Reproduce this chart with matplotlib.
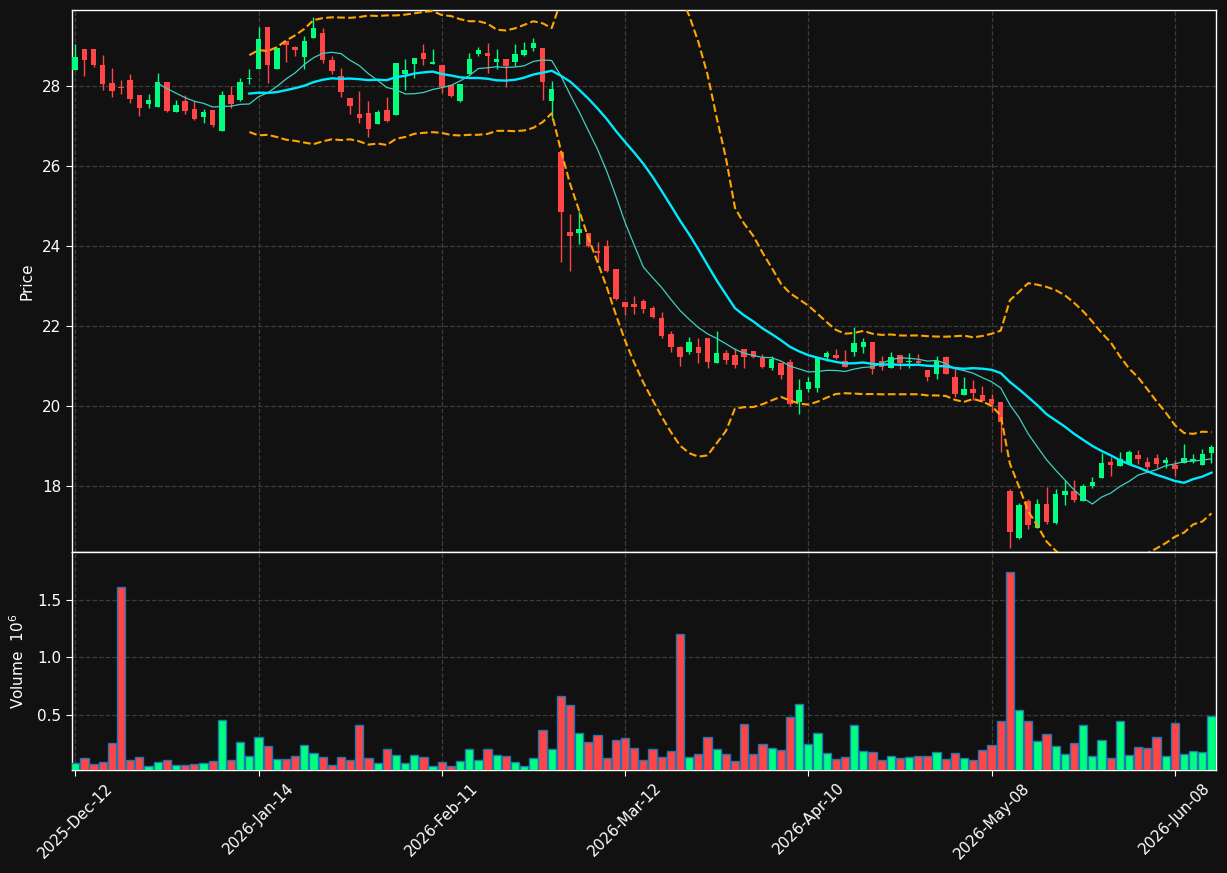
import numpy as np
import pandas as pd
import matplotlib
matplotlib.use('Agg')
import matplotlib.pyplot as plt

# ---- data ----
opens = [28.41, 28.93, 28.93, 28.53, 28.08, 27.97, 28.16, 27.78, 27.56, 27.48,
         28.11, 27.34, 27.63, 27.43, 27.23, 27.41, 26.88, 27.78, 27.66, 28.18,
         28.43, 29.48, 28.43, 29.13, 28.98, 28.73, 29.21, 29.33, 28.66, 28.26,
         27.71, 27.31, 27.33, 27.06, 27.41, 27.28, 28.31, 28.56, 28.83, 28.56,
         28.53, 28.03, 27.63, 28.31, 28.81, 28.83, 28.61, 28.68, 28.61, 28.78,
         28.96, 28.96, 27.63, 26.36, 24.36, 24.32, 24.33, 23.88, 24.01, 23.43,
         22.61, 22.56, 22.63, 22.46, 22.21, 21.81, 21.48, 21.36, 21.48, 21.71,
         21.07, 21.32, 21.27, 21.42, 21.37, 21.19, 20.94, 21.07, 21.09, 20.09,
         20.42, 20.44, 21.22, 21.27, 21.12, 21.34, 21.47, 21.59, 21.12, 20.96,
         21.27, 21.09, 21.12, 20.89, 20.81, 21.22, 20.72, 20.27, 20.42, 20.27,
         20.17, 20.10, 17.88, 16.69, 17.63, 16.96, 17.55, 17.08, 17.78, 17.88,
         17.63, 18.00, 18.21, 18.61, 18.50, 18.55, 18.78, 18.60, 18.70, 18.58,
         18.53, 18.57, 18.63, 18.53, 18.83]
highs = [29.05, 28.93, 28.93, 28.78, 28.45, 28.15, 28.31, 27.78, 27.79, 28.33,
         28.11, 27.66, 27.78, 27.63, 27.43, 27.41, 27.88, 28.01, 28.21, 28.43,
         29.47, 29.48, 28.96, 29.13, 29.00, 29.26, 29.73, 29.45, 28.76, 28.45,
         27.71, 27.88, 27.63, 27.41, 27.73, 28.58, 28.68, 28.71, 29.06, 28.93,
         28.53, 28.03, 28.06, 28.83, 28.98, 29.08, 28.93, 28.68, 29.06, 29.11,
         29.21, 28.96, 28.13, 26.36, 24.80, 24.87, 24.33, 24.09, 24.15, 23.43,
         22.61, 22.75, 22.67, 22.50, 22.36, 21.88, 21.51, 21.73, 21.71, 21.71,
         21.88, 21.41, 21.44, 21.42, 21.37, 21.29, 21.24, 21.07, 21.17, 20.67,
         20.72, 21.22, 21.38, 21.42, 21.39, 21.97, 21.69, 21.59, 21.24, 21.34,
         21.27, 21.32, 21.29, 20.89, 21.24, 21.24, 20.92, 20.72, 20.64, 20.49,
         20.29, 20.10, 17.93, 17.58, 17.67, 17.68, 17.98, 17.92, 18.14, 18.14,
         18.04, 18.22, 18.82, 18.72, 18.84, 18.90, 18.89, 18.72, 18.80, 18.72,
         18.65, 19.05, 18.80, 18.92, 19.02]
lows = [28.41, 28.24, 28.47, 27.90, 27.72, 27.79, 27.57, 27.24, 27.44, 27.48,
        27.35, 27.34, 27.30, 27.16, 27.08, 26.98, 26.88, 27.44, 27.63, 28.06,
        28.43, 28.07, 28.43, 28.61, 28.76, 28.43, 29.21, 28.57, 28.30, 27.72,
        27.31, 27.08, 26.73, 27.06, 27.11, 27.28, 27.89, 28.20, 28.53, 28.56,
        27.82, 27.72, 27.60, 28.31, 28.76, 28.33, 28.43, 27.97, 28.51, 28.76,
        28.88, 27.66, 27.16, 23.59, 23.37, 24.05, 23.97, 23.59, 23.34, 22.65,
        22.27, 22.30, 22.32, 22.19, 21.70, 21.36, 21.00, 21.31, 21.08, 20.95,
        21.07, 21.06, 20.96, 20.96, 21.20, 20.95, 20.89, 20.68, 20.00, 19.81,
        20.36, 20.34, 21.12, 21.17, 20.97, 21.26, 21.32, 20.81, 20.89, 20.94,
        20.92, 20.94, 21.02, 20.62, 20.67, 20.81, 20.22, 20.27, 20.14, 20.10,
        19.84, 18.86, 16.44, 16.67, 16.93, 16.96, 17.05, 17.04, 17.52, 17.61,
        17.63, 17.94, 18.21, 18.25, 18.50, 18.55, 18.54, 18.36, 18.44, 18.44,
        18.25, 18.57, 18.57, 18.53, 18.58]
closes = [28.73, 28.66, 28.53, 28.06, 27.88, 27.94, 27.68, 27.46, 27.66, 28.11,
          27.38, 27.53, 27.38, 27.18, 27.36, 27.03, 27.78, 27.56, 28.11, 28.20,
          29.18, 28.53, 28.96, 29.03, 28.91, 29.13, 29.46, 28.66, 28.38, 27.86,
          27.51, 27.21, 26.93, 27.36, 27.13, 28.58, 28.41, 28.71, 28.68, 28.61,
          27.98, 27.76, 28.06, 28.68, 28.91, 28.76, 28.68, 28.51, 28.81, 28.91,
          29.08, 28.11, 27.93, 24.84, 24.24, 24.43, 23.99, 23.83, 23.38, 22.67,
          22.47, 22.47, 22.42, 22.22, 21.74, 21.47, 21.22, 21.61, 21.33, 21.09,
          21.33, 21.14, 21.02, 21.22, 21.22, 20.97, 21.17, 20.77, 20.04, 20.39,
          20.59, 21.22, 21.32, 21.19, 20.97, 21.57, 21.59, 20.92, 20.97, 21.22,
          21.07, 21.12, 21.07, 20.73, 21.12, 20.81, 20.31, 20.42, 20.32, 20.12,
          20.04, 19.59, 16.86, 17.53, 17.03, 17.55, 17.11, 17.79, 17.88, 17.65,
          18.00, 18.10, 18.58, 18.53, 18.68, 18.84, 18.68, 18.48, 18.55, 18.65,
          18.43, 18.69, 18.68, 18.80, 18.98]
# volume in millions
volumes = [0.079, 0.123, 0.070, 0.088, 0.254, 1.614, 0.105, 0.132, 0.050, 0.088,
           0.105, 0.061, 0.061, 0.070, 0.079, 0.096, 0.456, 0.105, 0.263, 0.140,
           0.307, 0.228, 0.114, 0.114, 0.140, 0.237, 0.167, 0.132, 0.061, 0.132,
           0.105, 0.404, 0.123, 0.079, 0.202, 0.149, 0.079, 0.149, 0.132, 0.050,
           0.088, 0.050, 0.096, 0.202, 0.105, 0.202, 0.149, 0.140, 0.088, 0.050,
           0.123, 0.368, 0.202, 0.658, 0.579, 0.342, 0.263, 0.325, 0.123, 0.281,
           0.298, 0.211, 0.105, 0.202, 0.132, 0.184, 1.202, 0.132, 0.158, 0.307,
           0.202, 0.158, 0.096, 0.421, 0.158, 0.246, 0.211, 0.193, 0.474, 0.596,
           0.246, 0.342, 0.167, 0.114, 0.132, 0.412, 0.184, 0.175, 0.105, 0.140,
           0.123, 0.132, 0.140, 0.140, 0.175, 0.114, 0.167, 0.123, 0.105, 0.193,
           0.237, 0.447, 1.746, 0.541, 0.439, 0.272, 0.333, 0.228, 0.158, 0.254,
           0.404, 0.140, 0.281, 0.123, 0.447, 0.149, 0.219, 0.211, 0.307, 0.140,
           0.430, 0.158, 0.184, 0.175, 0.491]
tick_pos = [0, 20, 40, 60, 80, 100, 120]
tick_labels = ['2025-Dec-12', '2026-Jan-14', '2026-Feb-11', '2026-Mar-12',
               '2026-Apr-10', '2026-May-08', '2026-Jun-08']

# ---- style ----
bg = '#111111'
up_col = '#00ff7f'
down_col = '#ff4545'
plt.rcParams['font.family'] = 'DejaVu Sans'
plt.rcParams['font.size'] = 11

o = np.array(opens); h = np.array(highs); l = np.array(lows); c = np.array(closes)
v = np.array(volumes)
x = np.arange(len(c))
is_up = c >= o
colors = np.where(is_up, up_col, down_col)

close_s = pd.Series(c)
ma10 = close_s.rolling(10).mean()
ma20 = close_s.rolling(20).mean()
sd20 = close_s.rolling(20).std()
bb_up = ma20 + 2 * sd20
bb_lo = ma20 - 2 * sd20

fig = plt.figure(figsize=(12.27, 8.73), dpi=100, facecolor=bg)
ax = fig.add_axes([0.0587, 0.3677, 0.9324, 0.6208], facecolor=bg)
axv = fig.add_axes([0.0587, 0.118, 0.9324, 0.2497], facecolor=bg, sharex=ax)

# candles
ax.vlines(x, l, h, colors=colors, linewidth=1.0, zorder=2)
body_h = np.maximum(np.abs(c - o), 0.02)
ax.bar(x, body_h, bottom=np.minimum(o, c), width=0.6, color=colors,
       linewidth=0, zorder=3)

# moving averages / bands
ax.plot(x, ma10, color='#40d0c0', linewidth=0.9, zorder=4)
ax.plot(x, ma20, color='#00eaff', linewidth=1.7, zorder=4)
ax.plot(x, bb_up, color='orange', linewidth=1.5, linestyle='--', zorder=4)
ax.plot(x, bb_lo, color='orange', linewidth=1.5, linestyle='--', zorder=4)

# volume
axv.bar(x, v, width=0.9, color=colors, edgecolor='#1f77b4', linewidth=1.0, zorder=3)

ax.set_xlim(-0.35, 124.5)
ax.set_ylim(16.35, 29.9)
axv.set_ylim(0.3 * v.min(), 1.1 * v.max())

for a in (ax, axv):
    a.grid(True, color='#3c3c3c', linestyle='--', linewidth=0.9)
    a.set_axisbelow(True)
    for s in a.spines.values():
        s.set_color('white')
        s.set_linewidth(1.0)
    a.tick_params(colors='white', labelsize=11, length=4)

ax.set_yticks([18, 20, 22, 24, 26, 28])
axv.set_yticks([0.5, 1.0, 1.5])
axv.set_xticks(tick_pos)
axv.set_xticklabels(tick_labels, rotation=45, ha='center')
plt.setp(ax.get_xticklabels(), visible=False)

ax.set_ylabel('Price', color='white', fontsize=11)
axv.set_ylabel('Volume  $10^{6}$', color='white', fontsize=11)
ax.yaxis.set_label_coords(-0.033, 0.5)
axv.yaxis.set_label_coords(-0.039, 0.5)

plt.savefig('out.png', dpi=100, facecolor=bg)
